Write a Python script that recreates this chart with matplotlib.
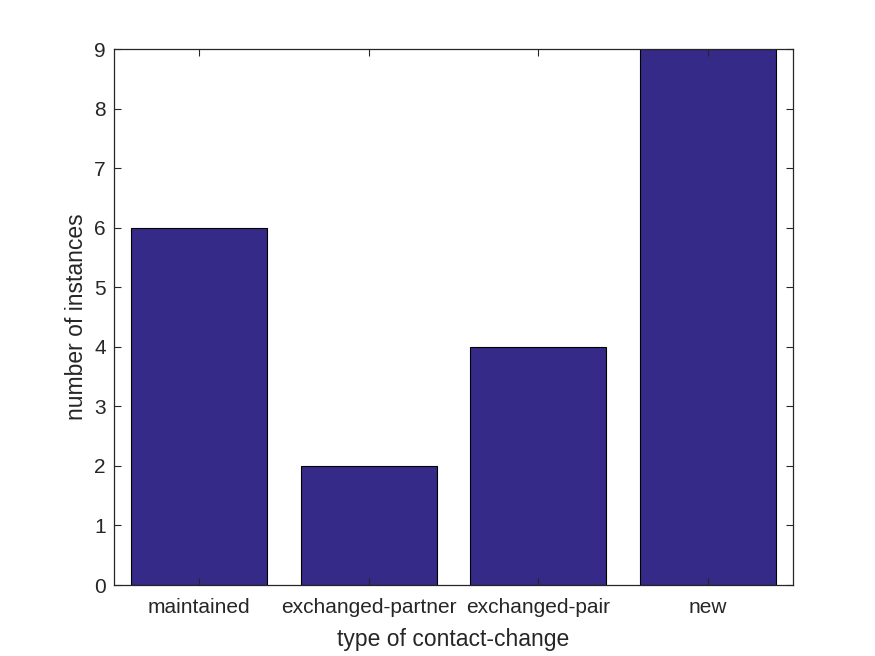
import matplotlib
matplotlib.use("Agg")
import matplotlib.pyplot as plt

categories = ["maintained", "exchanged-partner", "exchanged-pair", "new"]
counts = [6, 2, 4, 9]
yticks = [0, 1, 2, 3, 4, 5, 6, 7, 8, 9]

plt.rcParams['font.family'] = ['Liberation Sans', 'DejaVu Sans']

fig = plt.figure(figsize=(8.75, 6.56), dpi=100)
ax = fig.add_axes([0.1303, 0.1082, 0.776, 0.8171])
x = list(range(1, len(categories) + 1))
ax.bar(x, counts, width=0.8, color='#352A87', edgecolor='black', linewidth=0.8)
ax.set_xlim(0.5, 4.5)
ax.set_ylim(0, 9)
ax.set_xticks(x)
ax.set_xticklabels(categories)
ax.set_yticks(yticks)
ax.tick_params(direction='in', top=True, right=True, labelsize=15, colors='#262626', length=5, width=0.8)
ax.tick_params(axis='x', pad=9)
ax.tick_params(axis='y', pad=6)
for s in ax.spines.values():
    s.set_color('#262626')
    s.set_linewidth(0.9)
ax.set_xlabel('type of contact-change', fontsize=16.5, color='#262626', labelpad=8)
ax.set_ylabel('number of instances', fontsize=16.5, color='#262626', labelpad=4)
fig.savefig('out.png', dpi=100)
